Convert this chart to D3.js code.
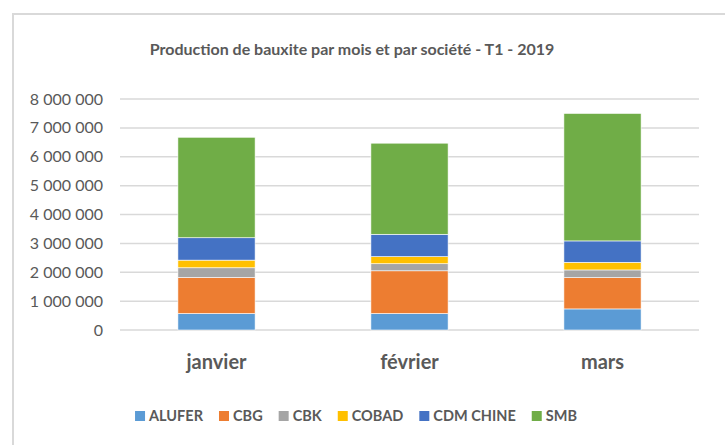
<!DOCTYPE html>
<html>
<head>
<meta charset="utf-8">
<script src="https://cdn.jsdelivr.net/npm/d3@7"></script>
<style>
  body { margin: 0; background: #fff; }
  svg { font-family: Lato, "Open Sans", sans-serif; }
</style>
</head>
<body>
<div id="graph"></div>
<script>
var months = ['janvier', 'février', 'mars']
var companies = ['ALUFER', 'CBG', 'CBK', 'COBAD', 'CDM CHINE', 'SMB']
var colors = ['#5B9BD5', '#ED7D31', '#A5A5A5', '#FFC000', '#4472C4', '#70AD47']

// production par société, dans l'ordre des mois
var ALUFER    = [570000, 570000, 730000]
var CBG       = [1250000, 1480000, 1085000]
var CBK       = [335000, 245000, 265000]
var COBAD     = [265000, 245000, 265000]
var CDM_CHINE = [775000, 775000, 740000]
var SMB       = [3480000, 3155000, 4415000]

var yTicks = [0, 1e6, 2e6, 3e6, 4e6, 5e6, 6e6, 7e6, 8e6]

var series = [ALUFER, CBG, CBK, COBAD, CDM_CHINE, SMB]
var rows = months.map((m, i) => {
  var r = {month: m}
  companies.forEach((c, j) => r[c] = series[j][i])
  return r
})

var width = 725, height = 445
var svg = d3.select('#graph').append('svg').attr('width', width).attr('height', height)

// cadre
svg.append('path')
  .attr('d', `M13,${height} V14 H${width}`)
  .attr('fill', 'none').attr('stroke', '#d9d9d9').attr('stroke-width', 2)

svg.append('text')
  .attr('x', 352).attr('y', 55)
  .attr('text-anchor', 'middle')
  .attr('font-size', 16).attr('font-weight', 'bold').attr('fill', '#595959')
  .text('Production de bauxite par mois et par société - T1 - 2019')

var x = d3.scaleBand().domain(months).range([120, 699]).paddingInner(0.6).paddingOuter(0.3)
var y = d3.scaleLinear().domain([0, 8e6]).range([330, 99])

var fr = d3.formatLocale({thousands: '\u00a0', grouping: [3], decimal: ',', currency: ['', '']})
var fmt = fr.format(',')

svg.append('g')
  .selectAll('line').data(yTicks).join('line')
  .attr('x1', 120).attr('x2', 699)
  .attr('y1', d => y(d)).attr('y2', d => y(d))
  .attr('stroke', '#d9d9d9').attr('stroke-width', 1.5)

svg.append('g')
  .selectAll('text').data(yTicks).join('text')
  .attr('x', 103).attr('y', d => y(d)).attr('dy', '0.35em')
  .attr('text-anchor', 'end')
  .attr('font-size', 16).attr('fill', '#595959')
  .text(d => fmt(d))

var stacked = d3.stack().keys(companies)(rows)

svg.append('g')
  .selectAll('g').data(stacked).join('g')
  .attr('fill', (d, i) => colors[i])
  .selectAll('rect').data(d => d).join('rect')
  .attr('x', d => x(d.data.month))
  .attr('width', x.bandwidth())
  .attr('y', d => y(d[1]))
  .attr('height', d => y(d[0]) - y(d[1]))
  .attr('stroke', '#fff').attr('stroke-width', 0.6)

svg.append('g')
  .selectAll('text').data(months).join('text')
  .attr('x', d => x(d) + x.bandwidth() / 2).attr('y', 369)
  .attr('text-anchor', 'middle')
  .attr('font-size', 20).attr('font-weight', 'bold').attr('fill', '#595959')
  .text(d => d)

// légende
var leg = svg.append('g')
var items = leg.selectAll('g').data(companies).join('g')
items.append('rect')
  .attr('width', 10).attr('height', 10).attr('y', -5)
  .attr('fill', (d, i) => colors[i])
items.append('text')
  .attr('x', 14).attr('dy', '0.35em')
  .attr('font-size', 14.5).attr('font-weight', 'bold').attr('fill', '#595959')
  .text(d => d)

var pos = 0
items.each(function () {
  var w = 14 + this.querySelector('text').getComputedTextLength()
  d3.select(this).attr('transform', `translate(${pos},0)`)
  pos += w + 16
})
var total = pos - 16
leg.attr('transform', `translate(${356 - total / 2},416)`)
</script>
</body>
</html>
